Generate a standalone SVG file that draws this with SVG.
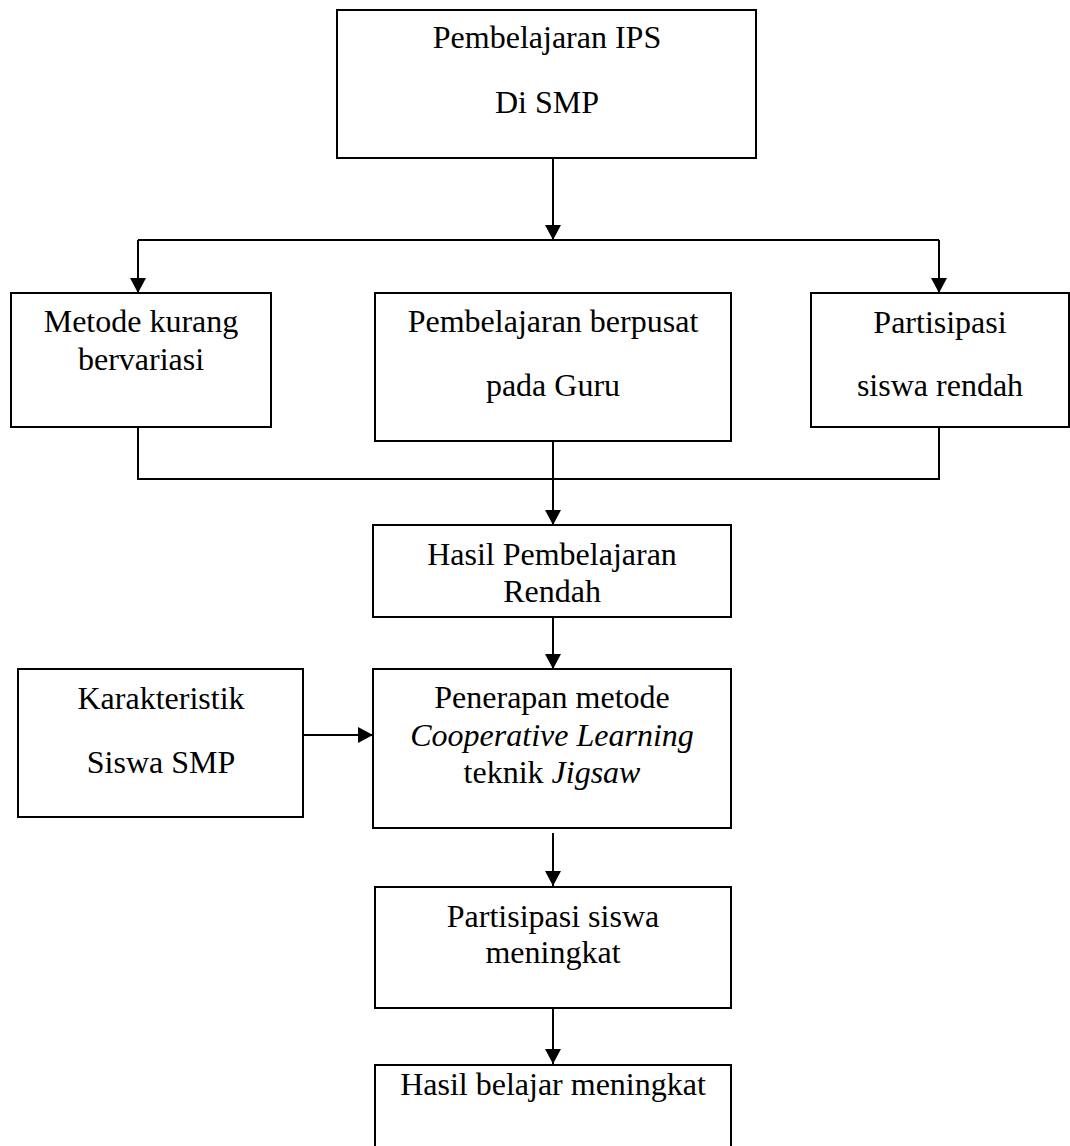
<svg xmlns="http://www.w3.org/2000/svg" width="1070" height="1146" viewBox="0 0 1070 1146">
<style>
.box{fill:#fff;stroke:#000;stroke-width:2}
.t{font-family:"Liberation Serif","Times New Roman",serif;font-size:32px;fill:#000;text-anchor:middle}
.i{font-style:italic}
.c{fill:none;stroke:#000;stroke-width:2}
</style>
<defs>
<marker id="ah" viewBox="0 0 15 16" refX="15" refY="8" markerWidth="15" markerHeight="16" markerUnits="userSpaceOnUse" orient="auto">
<path d="M0,0 L15,8 L0,16 z" fill="#000"/>
</marker>
</defs>
<rect width="1070" height="1146" fill="#fff"/>
<g id="connectors">
<path class="c" d="M553,158 V240" marker-end="url(#ah)"/>
<path class="c" d="M138,240 H939"/>
<path class="c" d="M138,240 V293" marker-end="url(#ah)"/>
<path class="c" d="M939,240 V293" marker-end="url(#ah)"/>
<path class="c" d="M138,427 V479 H939 V427"/>
<path class="c" d="M553,441 V525" marker-end="url(#ah)"/>
<path class="c" d="M553,617 V669" marker-end="url(#ah)"/>
<path class="c" d="M303,735 H373" marker-end="url(#ah)"/>
<path class="c" d="M553,833 V886" marker-end="url(#ah)"/>
<path class="c" d="M553,1008 V1064" marker-end="url(#ah)"/>
</g>
<g id="n-ips">
<rect class="box" x="337" y="10" width="419" height="148"/>
<text class="t" x="547" y="48">Pembelajaran IPS</text>
<text class="t" x="547" y="113">Di SMP</text>
</g>
<g id="n-metode">
<rect class="box" x="11" y="293" width="260" height="134"/>
<text class="t" x="141" y="332">Metode kurang</text>
<text class="t" x="141" y="370">bervariasi</text>
</g>
<g id="n-guru">
<rect class="box" x="375" y="293" width="356" height="148"/>
<text class="t" x="553" y="332">Pembelajaran berpusat</text>
<text class="t" x="553" y="396">pada Guru</text>
</g>
<g id="n-partisipasi-rendah">
<rect class="box" x="811" y="293" width="258" height="134"/>
<text class="t" x="940" y="333">Partisipasi</text>
<text class="t" x="940" y="396">siswa rendah</text>
</g>
<g id="n-hasil-rendah">
<rect class="box" x="373" y="525" width="358" height="92"/>
<text class="t" x="552" y="565">Hasil Pembelajaran</text>
<text class="t" x="552" y="602">Rendah</text>
</g>
<g id="n-karakteristik">
<rect class="box" x="18" y="669" width="285" height="148"/>
<text class="t" x="161" y="709">Karakteristik</text>
<text class="t" x="161" y="773">Siswa SMP</text>
</g>
<g id="n-penerapan">
<rect class="box" x="373" y="669" width="358" height="159"/>
<text class="t" x="552" y="708">Penerapan metode</text>
<text class="t i" x="552" y="746">Cooperative Learning</text>
<text class="t" x="552" y="783">teknik <tspan class="i">Jigsaw</tspan></text>
</g>
<g id="n-partisipasi-meningkat">
<rect class="box" x="375" y="887" width="356" height="121"/>
<text class="t" x="553" y="927">Partisipasi siswa</text>
<text class="t" x="553" y="963">meningkat</text>
</g>
<g id="n-hasil-meningkat">
<rect class="box" x="375" y="1065" width="356" height="100"/>
<text class="t" x="553" y="1095">Hasil belajar meningkat</text>
</g>
</svg>
